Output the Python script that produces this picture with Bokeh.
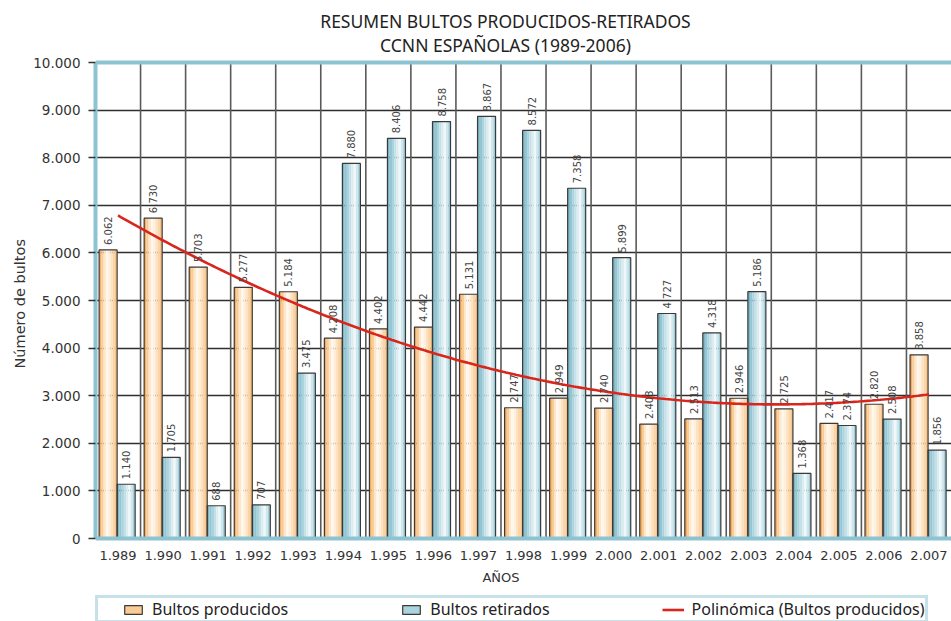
import numpy as np
from bokeh.plotting import figure
from bokeh.models import (ColumnDataSource, FactorRange, Range1d, FixedTicker,
                          Span, Legend, LegendItem, Title)
from bokeh.transform import dodge
from bokeh.core.properties import value
from bokeh.embed import file_html
from bokeh.resources import INLINE

# ---------------- data ----------------
years = ["1.989", "1.990", "1.991", "1.992", "1.993", "1.994", "1.995", "1.996", "1.997",
         "1.998", "1.999", "2.000", "2.001", "2.002", "2.003", "2.004", "2.005", "2.006", "2.007"]
producidos = [6062, 6730, 5703, 5277, 5184, 4208, 4402, 4442, 5131, 2747,
              2949, 2740, 2403, 2513, 2946, 2725, 2417, 2820, 3858]
retirados = [1140, 1705, 688, 707, 3475, 7880, 8406, 8758, 8867, 8572,
             7358, 5899, 4727, 4318, 5186, 1368, 2374, 2508, 1856]
y_ticks = [0, 1000, 2000, 3000, 4000, 5000, 6000, 7000, 8000, 9000, 10000]
y_tick_labels = ["0", "1.000", "2.000", "3.000", "4.000", "5.000", "6.000",
                 "7.000", "8.000", "9.000", "10.000"]
title_lines = ["RESUMEN BULTOS PRODUCIDOS-RETIRADOS", "CCNN ESPAÑOLAS (1989-2006)"]


def fmt(v):
    return f"{v:,}".replace(",", ".")


src = ColumnDataSource(dict(year=years, prod=producidos, ret=retirados,
                            prod_lbl=[fmt(v) for v in producidos],
                            ret_lbl=[fmt(v) for v in retirados]))

FRAME_BLUE = "#8ec3d1"
TXT = "#333333"

# layout (pixels): canvas size, y of value 10000 and of value 0
W, H = 951, 621
TOP, ZERO = 62, 538
YMAX = 10000
per_px = YMAX / (ZERO - TOP)
y_lo = -(H - ZERO) * per_px
y_hi = YMAX + TOP * per_px

p = figure(width=W, height=H,
           x_range=FactorRange(factors=years, range_padding=0, factor_padding=0),
           y_range=Range1d(y_lo, y_hi),
           output_backend="svg", toolbar_location=None,
           min_border_left=95, min_border_right=0, min_border_top=0, min_border_bottom=0,
           background_fill_color="white", border_fill_color="white")
p.title.text = ""
p.outline_line_color = None
p.xaxis.visible = False
p.xgrid.visible = False

# horizontal grid
p.ygrid.ticker = FixedTicker(ticks=y_ticks)
p.ygrid.grid_line_color = "#2e2e2e"
p.ygrid.grid_line_width = 1.6

# vertical separators between years
seps = np.arange(1, len(years))
p.segment(x0=seps, y0=0, x1=seps, y1=YMAX, line_color="#5a5a5a", line_width=1.6)

# frame borders (top and bottom)
p.add_layout(Span(location=YMAX, dimension="width", line_color=FRAME_BLUE, line_width=4))
p.add_layout(Span(location=0, dimension="width", line_color=FRAME_BLUE, line_width=4))

# bars as gradient stripes
bar_w = 0.40
n_str = 8
sw = bar_w / n_str
prod_off = -0.22
ret_off = 0.18
prod_colors = ["#f4ad63", "#f9cb95", "#fde6ca", "#fff6ec", "#fff0de", "#fde2c2", "#fbd4a6", "#f8c48a"]
ret_colors = ["#7db6c6", "#93c5d2", "#abd3dd", "#c4e0e7", "#dbecf0", "#eff7f9", "#d0e7ed", "#a3cfda"]

prod_strips = []
ret_strips = []
for k in range(n_str):
    c = -bar_w / 2 + sw / 2 + k * sw
    prod_strips.append(p.vbar(x=dodge("year", prod_off + c, range=p.x_range), top="prod",
                              width=sw * 1.02, fill_color=prod_colors[k], line_color=None,
                              source=src))
    ret_strips.append(p.vbar(x=dodge("year", ret_off + c, range=p.x_range), top="ret",
                             width=sw * 1.02, fill_color=ret_colors[k], line_color=None,
                             source=src))
prod_out = p.vbar(x=dodge("year", prod_off, range=p.x_range), top="prod", width=bar_w,
                  fill_color=None, line_color="#3a3a3a", line_width=1.2, source=src)
ret_out = p.vbar(x=dodge("year", ret_off, range=p.x_range), top="ret", width=bar_w,
                 fill_color=None, line_color="#3a3a3a", line_width=1.2, source=src)

# polynomial trend (order 2) of produced
xi = np.arange(1, len(producidos) + 1)
coef = np.polyfit(xi, producidos, 2)
xs = np.linspace(1, len(producidos), 300)
trend = p.line(xs - 0.5, np.polyval(coef, xs), line_color="#d9261c", line_width=2.6)

# value labels
lbl_kw = dict(angle=np.pi / 2, text_align="left", text_baseline="middle", y_offset=-5,
              text_font=value("DejaVu Sans"), text_font_size="10px", text_color="#444444",
              source=src)
p.text(x=dodge("year", prod_off, range=p.x_range), y="prod", text="prod_lbl", **lbl_kw)
p.text(x=dodge("year", ret_off, range=p.x_range), y="ret", text="ret_lbl", **lbl_kw)

# category (year) labels and x-axis title
p.text(x="year", y=0, text="year", source=src, y_offset=17, text_align="center",
       text_baseline="middle", text_font=value("DejaVu Sans"), text_font_size="13px",
       text_color=TXT)
x_mid = len(years) / 2 - 0.5
p.text(x=[x_mid], y=[0], text=["AÑOS"], y_offset=39, text_align="center",
       text_baseline="middle", text_font=value("DejaVu Sans"), text_font_size="13px",
       text_color=TXT)

# chart title (two centred lines)
p.text(x=[x_mid + 0.1, x_mid + 0.1], y=[YMAX, YMAX], text=title_lines, y_offset=[-42, -18],
       text_align="center", text_baseline="middle", text_font=value("Noto Sans"),
       text_font_size="17.5px", text_color="#222222")

# y axis
ya = p.yaxis[0]
ya.bounds = (0, YMAX)
ya.ticker = FixedTicker(ticks=y_ticks)
ya.major_label_overrides = {t: l for t, l in zip(y_ticks, y_tick_labels)}
ya.axis_line_color = FRAME_BLUE
ya.axis_line_width = 4
ya.major_tick_line_color = "#333333"
ya.major_tick_line_width = 1.3
ya.major_tick_out = 7
ya.major_tick_in = 0
ya.minor_tick_line_color = None
ya.major_label_standoff = 8
ya.major_label_text_font = "DejaVu Sans"
ya.major_label_text_font_size = "13.5px"
ya.major_label_text_color = TXT
ya.axis_label = None

# y-axis title, placed along the value range
p.add_layout(Title(text="Número de bultos", align="left", offset=253, standoff=6,
                   text_font="DejaVu Sans", text_font_size="14.5px", text_font_style="normal",
                   text_color=TXT), "left")

# legend (inside the extended frame, bottom edge runs off the canvas)
legend = Legend(items=[
    LegendItem(label="Bultos producidos", renderers=[prod_strips[4], prod_strips[1], prod_out]),
    LegendItem(label="Bultos retirados", renderers=[ret_strips[2], ret_out]),
    LegendItem(label="Polinómica (Bultos producidos)", renderers=[trend]),
], orientation="horizontal", location=(0, -2), title="\u00a0", title_location="left",
    title_standoff=15, title_text_font_size="8px", padding=0, spacing=112, glyph_width=22,
    glyph_height=11, label_standoff=8, label_text_font="Noto Sans", label_text_font_size="16px",
    label_height=16, label_text_color="#222222", border_line_color=FRAME_BLUE, border_line_width=3,
    background_fill_color="white", background_fill_alpha=1)
p.add_layout(legend)

open("out.html", "w").write(file_html(p, INLINE))
